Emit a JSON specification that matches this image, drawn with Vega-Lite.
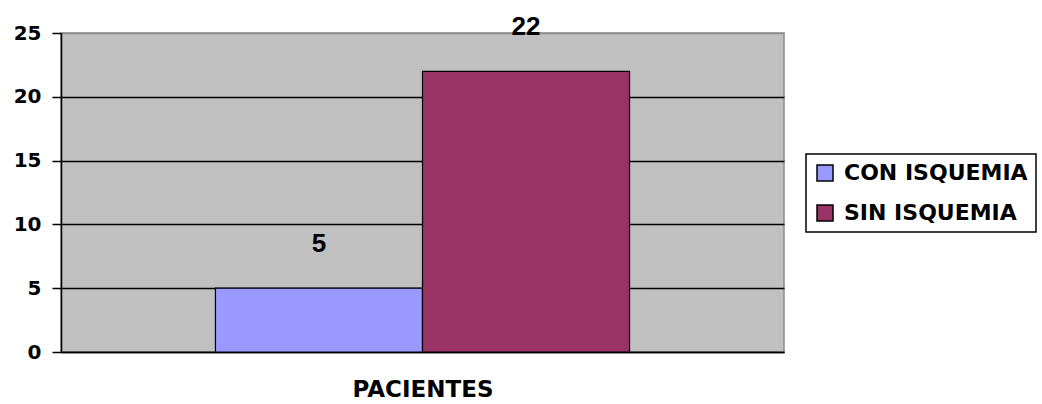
{
  "$schema": "https://vega.github.io/schema/vega-lite/v6.json",
  "width": 723,
  "height": 319,
  "autosize": {"type": "none"},
  "padding": {"left": 61, "top": 33, "right": 258, "bottom": 52},
  "background": "white",
  "config": {"view": {"fill": "#C0C0C0", "stroke": "#8a8a8a", "strokeWidth": 1.5}, "font": "DejaVu Sans", "legend": {"strokeWidth": 1.5}},
  "data": {"values": [
    {"grupo": "PACIENTES", "serie": "CON ISQUEMIA", "valor": 5},
    {"grupo": "PACIENTES", "serie": "SIN ISQUEMIA", "valor": 22}
  ]},
  "encoding": {
    "x": {"field": "grupo", "type": "nominal", "scale": {"paddingInner": 0, "paddingOuter": 0.373},
      "axis": {"labels": false, "ticks": false, "domainColor": "black", "domainWidth": 1.5, "title": "PACIENTES", "titleFont": "DejaVu Sans", "titleFontSize": 23, "titleFontWeight": "bold", "titlePadding": 26, "titleColor": "black"}},
    "xOffset": {"field": "serie", "type": "nominal", "scale": {"paddingInner": 0, "paddingOuter": 0}},
    "y": {"field": "valor", "type": "quantitative", "scale": {"domain": [0, 25], "nice": false},
      "axis": {"values": [0, 5, 10, 15, 20, 25], "title": null, "grid": true,
        "gridColor": {"condition": {"test": "datum.value === 25", "value": "#8a8a8a"}, "value": "black"},
        "gridWidth": 1.5, "gridOpacity": 1, "domainColor": "black", "domainWidth": 1.5, "tickColor": "black", "tickSize": 9, "tickWidth": 1.5,
        "labelFont": "DejaVu Sans", "labelFontSize": 20, "labelFontWeight": "bold", "labelColor": "black", "labelPadding": 11}}
  },
  "layer": [
    {"mark": {"type": "bar", "stroke": "black", "strokeWidth": 1.2},
      "encoding": {"color": {"field": "serie", "type": "nominal",
        "scale": {"domain": ["CON ISQUEMIA", "SIN ISQUEMIA"], "range": ["#9999FF", "#993366"]},
        "legend": {"title": null, "orient": "none", "legendX": 745, "legendY": 121, "direction": "vertical",
          "symbolType": "square", "symbolSize": 256, "symbolStrokeColor": "black", "symbolStrokeWidth": 1.5, "symbolOpacity": 1,
          "labelFont": "DejaVu Sans", "labelFontSize": 22, "labelFontWeight": "bold", "labelColor": "black", "labelOffset": 8, "labelLimit": 400,
          "rowPadding": 18, "padding": 8, "strokeColor": "black", "fillColor": "white"}}}},
    {"mark": {"type": "text", "dy": -44, "font": "Liberation Sans", "fontSize": 26, "fontWeight": "bold", "baseline": "middle", "color": "black"},
      "encoding": {"text": {"field": "valor", "type": "quantitative"}}}
  ]
}
